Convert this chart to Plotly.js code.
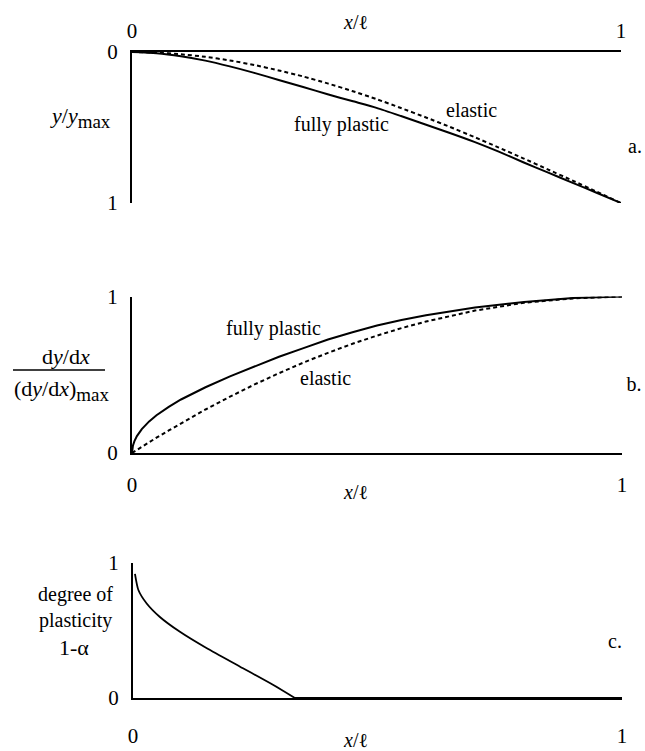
<!DOCTYPE html>
<html>
<head>
<meta charset="utf-8">
<script src="https://cdn.plot.ly/plotly-3.0.1.min.js"></script>
<style>
html,body{margin:0;padding:0;background:#fff;}
.plab{position:absolute;width:40px;height:24px;line-height:24px;text-align:center;font-family:'Liberation Serif';font-size:20px;color:#000;}
</style>
</head>
<body>
<div id="chart" style="width:645px;height:751px"></div>
<div class="plab" style="left:615px;top:134px">a.</div>
<div class="plab" style="left:614px;top:372px">b.</div>
<div class="plab" style="left:595px;top:629px">c.</div>
<script>
// ---- data ----
// panel a: normalised deflection y/ymax along x/l
const xDefl = [0, 0.05, 0.1, 0.15, 0.2, 0.25, 0.3, 0.35, 0.4, 0.45, 0.5, 0.55, 0.6, 0.65, 0.7, 0.75, 0.8, 0.85, 0.9, 0.95, 1];
const deflPlastic = [0, 0.008, 0.028, 0.057, 0.095, 0.138, 0.185, 0.232, 0.28, 0.325, 0.37, 0.424, 0.48, 0.536, 0.595, 0.66, 0.73, 0.797, 0.865, 0.932, 1];
const deflElastic = [0, 0.004, 0.015, 0.032, 0.056, 0.086, 0.122, 0.162, 0.208, 0.258, 0.312, 0.371, 0.432, 0.496, 0.563, 0.633, 0.704, 0.777, 0.85, 0.925, 1];
// panel b: normalised slope
const xSlope = [0, 0.002, 0.005, 0.01, 0.02, 0.035, 0.05, 0.075, 0.1, 0.125, 0.15, 0.2, 0.25, 0.3, 0.35, 0.4, 0.45, 0.5, 0.55, 0.6, 0.7, 0.8, 0.9, 1];
const slopePlastic = [0, 0.048, 0.076, 0.108, 0.153, 0.202, 0.241, 0.295, 0.342, 0.382, 0.42, 0.49, 0.555, 0.615, 0.67, 0.725, 0.772, 0.815, 0.85, 0.88, 0.93, 0.965, 0.99, 1];
const slopeElastic = [0, 0.004, 0.01, 0.02, 0.04, 0.069, 0.098, 0.144, 0.19, 0.234, 0.278, 0.36, 0.438, 0.51, 0.578, 0.64, 0.698, 0.75, 0.798, 0.84, 0.91, 0.96, 0.988, 1];
// panel c: degree of plasticity 1-alpha
const xPlast = [0.004, 0.011, 0.028, 0.055, 0.096, 0.151, 0.219, 0.287, 0.331, 1];
const degreePlast = [0.92, 0.80, 0.70, 0.60, 0.49, 0.368, 0.232, 0.096, 0, 0];
// tick labels
const tickVals = [0, 1];
const tickText = ['0', '1'];

// ---- layout helpers ----
const W = 645, H = 751;
const FONT = 'Liberation Serif';
const px = v => v / W;
const py = v => 1 - v / H;

function ann(text, x, y, size) {
  return {
    text: text, x: px(x), y: py(y), xref: 'paper', yref: 'paper',
    showarrow: false, xanchor: 'center', yanchor: 'middle',
    font: {family: FONT, size: size, color: '#000'}
  };
}

const solid = {color: '#000', width: 2, shape: 'spline', smoothing: 0.6};
const dashed = {color: '#000', width: 2, dash: '4px,3px', shape: 'spline', smoothing: 0.6};
const nCurve = xPlast.indexOf(0.331) + 1;

const traces = [
  {x: xDefl, y: deflPlastic, xaxis: 'x', yaxis: 'y', mode: 'lines', line: solid, name: 'fully plastic'},
  {x: xDefl, y: deflElastic, xaxis: 'x', yaxis: 'y', mode: 'lines', line: dashed, name: 'elastic'},
  {x: xSlope, y: slopePlastic, xaxis: 'x2', yaxis: 'y2', mode: 'lines', line: {color: '#000', width: 2}, name: 'fully plastic'},
  {x: xSlope, y: slopeElastic, xaxis: 'x2', yaxis: 'y2', mode: 'lines', line: {color: '#000', width: 2, dash: '4px,3px'}, name: 'elastic'},
  {x: xPlast.slice(0, nCurve), y: degreePlast.slice(0, nCurve), xaxis: 'x3', yaxis: 'y3', mode: 'lines',
   line: {color: '#000', width: 1.8, shape: 'spline', smoothing: 0.6}, name: 'degree of plasticity'},
  {x: xPlast.slice(nCurve - 1), y: degreePlast.slice(nCurve - 1), xaxis: 'x3', yaxis: 'y3', mode: 'lines',
   line: {color: '#000', width: 1.8}, name: 'degree of plasticity (elastic part)'}
];

function xax(domain, anchor, side, standoff) {
  return {
    domain: domain, anchor: anchor, side: side, range: [0, 1],
    showline: true, linecolor: '#000', linewidth: 2,
    ticks: '', tickvals: tickVals, ticktext: tickText,
    ticklabelstandoff: standoff,
    showgrid: false, zeroline: false, fixedrange: true,
    tickfont: {family: FONT, size: 21, color: '#000'}
  };
}
function yax(domain, anchor, range) {
  return {
    domain: domain, anchor: anchor, range: range,
    showline: true, linecolor: '#000', linewidth: 2,
    ticks: 'inside', ticklen: 14, tickwidth: 2, tickcolor: '#000',
    tickvals: tickVals, ticktext: tickText, ticklabelstandoff: 8,
    showgrid: false, zeroline: false, fixedrange: true,
    tickfont: {family: FONT, size: 21, color: '#000'}
  };
}

const layout = {
  width: W, height: H,
  margin: {l: 0, r: 0, t: 0, b: 0},
  paper_bgcolor: '#fff', plot_bgcolor: 'rgba(0,0,0,0)',
  showlegend: false,
  xaxis: xax([px(132), px(621)], 'y', 'top', 4),
  yaxis: yax([py(203), py(52)], 'x', [1, 0]),
  xaxis2: xax([px(132), px(622)], 'y2', 'bottom', 12),
  yaxis2: yax([py(453), py(296.5)], 'x2', [0, 1]),
  xaxis3: xax([px(133), px(622)], 'y3', 'bottom', 18),
  yaxis3: yax([py(698), py(563)], 'x3', [0, 1]),
  shapes: [
    {type: 'line', xref: 'paper', yref: 'paper', x0: px(13), x1: px(105), y0: py(370), y1: py(370),
     line: {color: '#000', width: 1.5}}
  ],
  annotations: [
    // panel a
    ann('<i>x</i>/ℓ', 355, 22, 20),
    ann('<i>y</i>/<i>y</i><sub><span style="font-size:19px">max</span></sub>', 80, 117, 22),
    ann('fully plastic', 341, 124, 20),
    ann('elastic', 471, 110, 20),
    // panel b
    ann('d<i>y</i>/d<i>x</i>', 66, 356, 22),
    ann('(d<i>y</i>/d<i>x</i>)<sub><span style="font-size:19px">max</span></sub>', 62, 390, 22),
    ann('fully plastic', 273, 329, 20),
    ann('elastic', 325, 378, 20),
    ann('<i>x</i>/ℓ', 355, 492, 20),
    // panel c
    ann('degree of', 75, 594, 20),
    ann('plasticity', 75, 620, 20),
    ann('1-α', 74, 647, 22),
    ann('<i>x</i>/ℓ', 355, 740, 20)
  ]
};

Plotly.newPlot('chart', traces, layout, {staticPlot: true, displayModeBar: false});
</script>
</body>
</html>
